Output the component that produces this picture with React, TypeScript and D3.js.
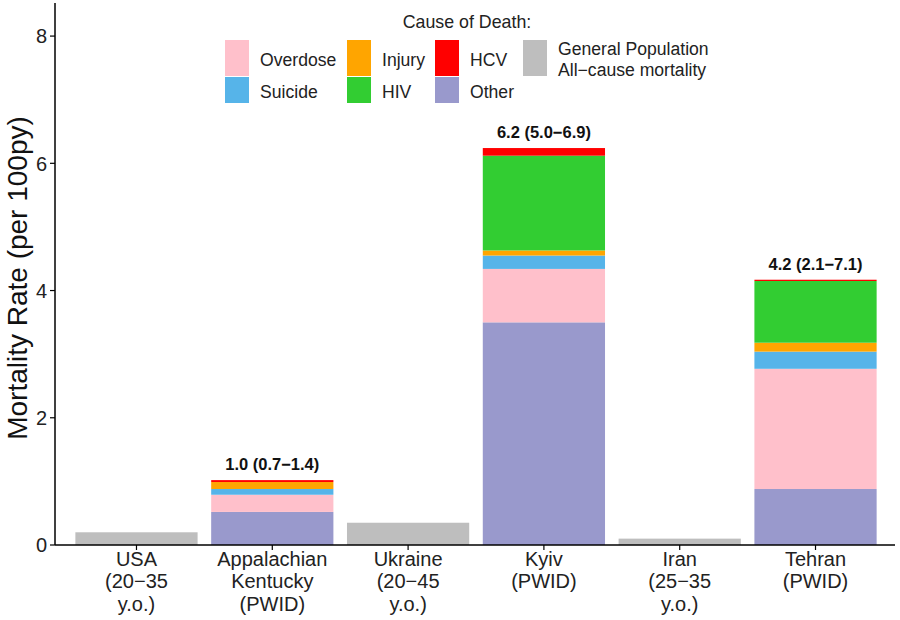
import React from "react";
import * as d3 from "d3";

const categories = ["USA", "Appalachian Kentucky", "Ukraine", "Kyiv", "Iran", "Tehran"];
const categoryLines = [
  ["USA", "(20\u221235", "y.o.)"],
  ["Appalachian", "Kentucky", "(PWID)"],
  ["Ukraine", "(20\u221245", "y.o.)"],
  ["Kyiv", "(PWID)"],
  ["Iran", "(25\u221235", "y.o.)"],
  ["Tehran", "(PWID)"],
];
const generalPopulation = [0.2, 0, 0.35, 0, 0.1, 0];
const causes = ["Other", "Overdose", "Suicide", "Injury", "HIV", "HCV"];
const other = [0, 0.52, 0, 3.5, 0, 0.88];
const overdose = [0, 0.27, 0, 0.84, 0, 1.89];
const suicide = [0, 0.09, 0, 0.21, 0, 0.27];
const injury = [0, 0.11, 0, 0.08, 0, 0.14];
const hiv = [0, 0.0, 0, 1.49, 0, 0.97];
const hcv = [0, 0.03, 0, 0.12, 0, 0.02];
const totalLabels = ["", "1.0 (0.7\u22121.4)", "", "6.2 (5.0\u22126.9)", "", "4.2 (2.1\u22127.1)"];
const yTicks = [0, 2, 4, 6, 8];

const colors: Record<string, string> = {
  Overdose: "#FFC0CB",
  Suicide: "#56B4E9",
  Injury: "#FFA500",
  HCV: "#FF0000",
  HIV: "#32CD32",
  Other: "#9999CC",
  GenPop: "#BEBEBE",
};

const FONT = "'Liberation Sans', Arial, Helvetica, sans-serif";

export default function App() {
  const W = 900, H = 620;
  const left = 55, right = 897, top = 3, bottom = 545;
  const y = d3.scaleLinear().domain([0, 8.52]).range([bottom, top]);
  const unit = (right - left) / 6.2;
  const xc = (i: number) => left + (i + 0.6) * unit;
  const bw = unit * 0.9;

  const rows = categories.map((c, i) => ({
    cat: c,
    Other: other[i], Overdose: overdose[i], Suicide: suicide[i],
    Injury: injury[i], HIV: hiv[i], HCV: hcv[i],
  }));
  const stacked = d3.stack<any>().keys(causes)(rows);

  const legendRow1 = [
    { k: "Overdose", x: 225 }, { k: "Injury", x: 347 }, { k: "HCV", x: 435 },
  ];
  const legendRow2 = [
    { k: "Suicide", x: 225 }, { k: "HIV", x: 347 }, { k: "Other", x: 435 },
  ];

  return (
    <svg width={W} height={H} style={{ position: "absolute", left: 0, top: 0, background: "#fff" }} fontFamily={FONT}>
      {generalPopulation.map((v, i) => v > 0 ? (
        <rect key={"g" + i} x={xc(i) - bw / 2} y={y(v)} width={bw} height={y(0) - y(v)} fill={colors.GenPop} />
      ) : null)}
      {stacked.map((s) => s.map((d, i) => (d[1] - d[0] > 0 ? (
        <rect key={s.key + i} x={xc(i) - bw / 2} y={y(d[1])} width={bw} height={y(d[0]) - y(d[1])} fill={colors[s.key]} />
      ) : null)))}
      {totalLabels.map((t, i) => {
        if (!t) return null;
        const tot = other[i] + overdose[i] + suicide[i] + injury[i] + hiv[i] + hcv[i];
        return (
          <text key={"t" + i} x={xc(i)} y={y(tot) - 10} textAnchor="middle" fontSize={16.5} fontWeight="bold" fill="#111">{t}</text>
        );
      })}
      <line x1={left} x2={left} y1={top} y2={bottom} stroke="#000" strokeWidth={1.5} />
      <line x1={left} x2={right - 2} y1={bottom} y2={bottom} stroke="#000" strokeWidth={1.5} />
      {yTicks.map((t) => (
        <g key={"y" + t}>
          <line x1={left - 5} x2={left} y1={y(t)} y2={y(t)} stroke="#000" strokeWidth={1.2} />
          <text x={left - 8} y={y(t)} dy="0.36em" textAnchor="end" fontSize={20} fill="#222">{t}</text>
        </g>
      ))}
      {categoryLines.map((lines, i) => (
        <g key={"x" + i}>
          <line x1={xc(i)} x2={xc(i)} y1={bottom} y2={bottom + 5} stroke="#000" strokeWidth={1.2} />
          {lines.map((ln, j) => (
            <text key={j} x={xc(i)} y={bottom + 21 + j * 22.3} textAnchor="middle" fontSize={20} fill="#222">{ln}</text>
          ))}
        </g>
      ))}
      <text transform={`translate(27,278) rotate(-90)`} textAnchor="middle" fontSize={28} fill="#111">Mortality Rate (per 100py)</text>
      <text x={467} y={28} textAnchor="middle" fontSize={17.8} fill="#222">Cause of Death:</text>
      {legendRow1.map((l) => (
        <g key={l.k}>
          <rect x={l.x} y={40} width={24} height={36} fill={colors[l.k]} />
          <text x={l.x + 35} y={66} fontSize={17.6} fill="#222">{l.k}</text>
        </g>
      ))}
      {legendRow2.map((l) => (
        <g key={l.k}>
          <rect x={l.x} y={77} width={24} height={26} fill={colors[l.k]} />
          <text x={l.x + 35} y={98} fontSize={17.6} fill="#222">{l.k}</text>
        </g>
      ))}
      <rect x={523} y={40} width={24} height={36} fill={colors.GenPop} />
      <text x={558} y={55} fontSize={17.6} fill="#222">General Population</text>
      <text x={558} y={76} fontSize={17.6} fill="#222">All{"\u2212"}cause mortality</text>
    </svg>
  );
}
